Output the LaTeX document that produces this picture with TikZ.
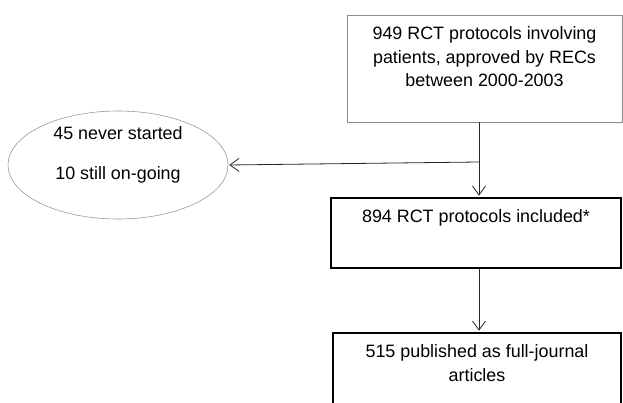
\documentclass[tikz,border=0pt]{standalone}
\usepackage{fontspec}
\setmainfont{Liberation Sans}
\usetikzlibrary{shapes.geometric, arrows.meta, positioning}
\newcommand{\boxtext}[4]{\parbox[c][#2][t]{#1}{\centering\vspace*{#3}#4\par}}

\begin{document}
\begin{tikzpicture}[x=1pt, y=1pt, font=\fontsize{17.9}{23.5}\selectfont,
		thinbox/.style={rectangle, draw=black!45, line width=0.7pt, inner sep=0pt},
		thickbox/.style={rectangle, draw=black, line width=2.6pt, inner sep=0pt},
		oval/.style={ellipse, draw=black!40, line width=0.6pt, inner sep=0pt, minimum width=220pt, minimum height=108pt},
		flow/.style={draw=black!85, line width=0.8pt, shorten >=1pt, -{Straight Barb[length=9pt, width=13pt]}}]
				\clip (0,0) rectangle (623,-403);
				\node[thinbox] (rct) at (484.5,-68.5) {\boxtext{275pt}{107pt}{12pt}{949 RCT protocols involving\\ patients, approved by RECs\\ between 2000-2003}};
				\node[thickbox] (incl) at (476,-233) {\boxtext{290pt}{70pt}{12pt}{894 RCT protocols included*}};
				\node[thickbox] (pub) at (477,-378) {\boxtext{288pt}{90pt}{12pt}{515 published as full-journal\\ articles}};
				\node[oval] (excl) at (118,-165) {\parbox[c][76pt][t]{150pt}{\centering 45 never started\\[16.5pt] 10 still on-going\par}};
				\coordinate (split) at (479,-162);
				
				\draw[flow] (rct.south -| split) -- (incl.north -| split);
				\draw[flow] (split) -- (excl.east);
				\draw[flow] (incl.south -| split) -- (pub.north -| split);
			\end{tikzpicture}
\end{document}
